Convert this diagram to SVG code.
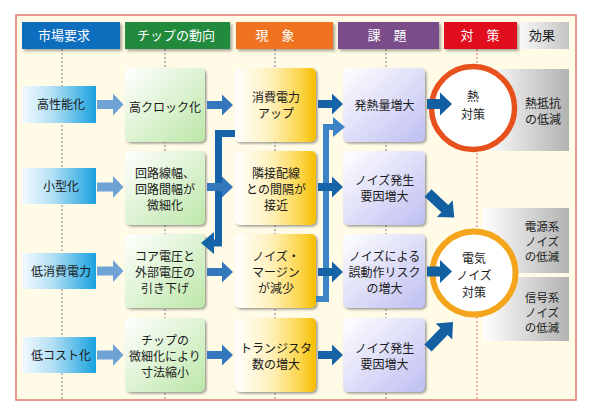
<svg xmlns="http://www.w3.org/2000/svg" width="590" height="417" viewBox="0 0 590 417">
<defs>
<linearGradient id="gBlue" x1="0" y1="0" x2="1" y2="0"><stop offset="0" stop-color="#F2FAFE"/><stop offset="0.4" stop-color="#B5E0F5"/><stop offset="1" stop-color="#1AA2DF"/></linearGradient>
<linearGradient id="gGreen" x1="0" y1="0" x2="1" y2="1"><stop offset="0" stop-color="#FFFFFF"/><stop offset="1" stop-color="#BCE7A8"/></linearGradient>
<linearGradient id="gYellow" x1="0" y1="0" x2="1" y2="0"><stop offset="0" stop-color="#FFFFFF"/><stop offset="0.45" stop-color="#FFF0BA"/><stop offset="0.8" stop-color="#FDD64C"/><stop offset="1" stop-color="#F5BE00"/></linearGradient>
<linearGradient id="gLav" x1="0" y1="0" x2="1" y2="1"><stop offset="0" stop-color="#FFFFFF"/><stop offset="1" stop-color="#BEBEF2"/></linearGradient>
<linearGradient id="gGray" x1="0" y1="0" x2="1" y2="0"><stop offset="0" stop-color="#FFFFFF"/><stop offset="1" stop-color="#B2B2B2"/></linearGradient>
<linearGradient id="gHdrGray" x1="0" y1="0" x2="1" y2="0"><stop offset="0" stop-color="#F8F8F8"/><stop offset="1" stop-color="#C4C4C4"/></linearGradient>
<filter id="sh" x="-10%" y="-10%" width="130%" height="130%"><feDropShadow dx="1.5" dy="1.5" stdDeviation="0.9" flood-color="#555" flood-opacity="0.6"/></filter>
<filter id="hsh" x="-10%" y="-20%" width="130%" height="160%"><feDropShadow dx="2" dy="2" stdDeviation="1.5" flood-color="#000" flood-opacity="0.35"/></filter>
<style>
text{font-family:"Noto Sans CJK JP","Noto Sans",sans-serif;font-size:12px;fill:#1a1a1a;text-anchor:middle}
.ht{font-size:13px;fill:#fff}
.et{font-size:11.5px}
.guide{stroke:#A8A8A8;stroke-width:1.5;stroke-dasharray:2 2;fill:none}
.guide5{stroke:#E49A96;stroke-width:1.5;stroke-dasharray:2 2;fill:none}
.b1{fill:url(#gBlue)}
.b2{fill:url(#gGreen);filter:url(#sh)}
.b3{fill:url(#gYellow);filter:url(#sh)}
.b4{fill:url(#gLav);filter:url(#sh)}
.b6{fill:url(#gGray)}
.a1{fill:#6FA3D6}
.a2{fill:#3577BC}
.a3{fill:#1763A8}
.a4{fill:#125FA2}
</style>
</defs>

<rect x="16" y="15" width="560" height="385" fill="#FFFBE6" stroke="#E07A6C" stroke-width="1.5"/>

<g id="guides">
<line class="guide" x1="62" y1="49" x2="62" y2="399"/>
<line class="guide" x1="165" y1="49" x2="165" y2="399"/>
<line class="guide" x1="275" y1="49" x2="275" y2="399"/>
<line class="guide" x1="386" y1="49" x2="386" y2="399"/>
<line class="guide5" x1="477" y1="49" x2="477" y2="399"/>
</g>

<g id="headers">
<g id="h-market"><rect x="22" y="22" width="98" height="27" fill="#0B6EBE" filter="url(#hsh)"/><text class="ht" x="64" y="40">市場要求</text></g>
<g id="h-chip"><rect x="125" y="22" width="105" height="27" fill="#228A3C" filter="url(#hsh)"/><text class="ht" x="176" y="40">チップの動向</text></g>
<g id="h-phen"><rect x="236" y="22" width="97" height="27" fill="#F07320" filter="url(#hsh)"/><text class="ht" x="275" y="40">現　象</text></g>
<g id="h-issue"><rect x="338" y="22" width="101" height="27" fill="#7A4E8A" filter="url(#hsh)"/><text class="ht" x="387" y="40">課　題</text></g>
<g id="h-measure"><rect x="444" y="22" width="73" height="27" fill="#E0101E" filter="url(#hsh)"/><text class="ht" x="480" y="40">対　策</text></g>
<g id="h-effect"><rect x="520" y="22" width="49" height="27" fill="url(#gHdrGray)"/><text x="542" y="40" style="font-size:13px">効果</text></g>
</g>

<g id="effects">
<g id="e-heat"><rect class="b6" x="483" y="69" width="86" height="82"/><text x="543" y="108">熱抵抗</text><text x="543" y="124">の低減</text></g>
<g id="e-power"><rect class="b6" x="483" y="208" width="86" height="65"/><text class="et" x="542" y="231">電源系</text><text class="et" x="542" y="246">ノイズ</text><text class="et" x="542" y="261">の低減</text></g>
<g id="e-signal"><rect class="b6" x="483" y="277" width="86" height="64"/><text class="et" x="542" y="302">信号系</text><text class="et" x="542" y="317">ノイズ</text><text class="et" x="542" y="332">の低減</text></g>
</g>

<g id="c-heat"><circle cx="473" cy="108" r="41.5" fill="#FFFFFF" stroke="#E8501C" stroke-width="5.5"/><text x="473" y="101">熱</text><text x="473" y="119">対策</text></g>
<g id="c-noise"><circle cx="474" cy="273" r="41.5" fill="#FFFFFF" stroke="#F5A51C" stroke-width="6"/><text x="474" y="263">電気</text><text x="474" y="280">ノイズ</text><text x="474" y="297">対策</text></g>

<g id="m-perf"><rect class="b1" x="22" y="86" width="74" height="37"/><text x="61" y="109">高性能化</text></g>
<g id="m-small"><rect class="b1" x="22" y="168" width="74" height="36"/><text x="61" y="191">小型化</text></g>
<g id="m-lowpower"><rect class="b1" x="22" y="253" width="74" height="36"/><text x="61" y="276">低消費電力</text></g>
<g id="m-lowcost"><rect class="b1" x="22" y="337" width="74" height="36"/><text x="61" y="360">低コスト化</text></g>

<g id="t-clock"><rect class="b2" x="125" y="68" width="80" height="74" rx="5"/><text x="165" y="112">高クロック化</text></g>
<g id="t-fine"><rect class="b2" x="125" y="151" width="80" height="74" rx="5"/><text x="165" y="178">回路線幅、</text><text x="165" y="194">回路間幅が</text><text x="165" y="210">微細化</text></g>
<g id="t-voltage"><rect class="b2" x="125" y="234" width="80" height="74" rx="5"/><text x="165" y="261">コア電圧と</text><text x="165" y="277">外部電圧の</text><text x="165" y="293">引き下げ</text></g>
<g id="t-shrink"><rect class="b2" x="125" y="318" width="80" height="74" rx="5"/><text x="165" y="345">チップの</text><text x="165" y="361">微細化により</text><text x="165" y="377">寸法縮小</text></g>

<g id="p-power"><rect class="b3" x="235" y="68" width="81" height="74" rx="5"/><text x="276" y="102">消費電力</text><text x="276" y="118">アップ</text></g>
<g id="p-spacing"><rect class="b3" x="235" y="151" width="81" height="74" rx="5"/><text x="276" y="178">隣接配線</text><text x="276" y="194">との間隔が</text><text x="276" y="210">接近</text></g>
<g id="p-margin"><rect class="b3" x="235" y="234" width="81" height="74" rx="5"/><text x="276" y="261">ノイズ・</text><text x="276" y="277">マージン</text><text x="276" y="293">が減少</text></g>
<g id="p-trans"><rect class="b3" x="235" y="318" width="81" height="74" rx="5"/><text x="276" y="353">トランジスタ</text><text x="276" y="369">数の増大</text></g>

<g id="i-heat"><rect class="b4" x="343" y="68" width="82" height="74" rx="5"/><text x="384.5" y="110">発熱量増大</text></g>
<g id="i-noise1"><rect class="b4" x="343" y="151" width="82" height="74" rx="5"/><text x="384.5" y="185">ノイズ発生</text><text x="384.5" y="201">要因増大</text></g>
<g id="i-malfunc"><rect class="b4" x="343" y="234" width="82" height="74" rx="5"/><text x="384.5" y="261">ノイズによる</text><text x="384.5" y="277">誤動作リスク</text><text x="384.5" y="293">の増大</text></g>
<g id="i-noise2"><rect class="b4" x="343" y="318" width="82" height="74" rx="5"/><text x="384.5" y="353">ノイズ発生</text><text x="384.5" y="369">要因増大</text></g>

<g id="connectors">
<path d="M316 299 H326 V127 H335" fill="none" stroke="#3D84C6" stroke-width="6" stroke-linejoin="miter"/>
<polygon points="333,117 345,127 333,137" fill="#3D84C6"/>
<path d="M235 133.5 H218.5 V243 H212" fill="none" stroke="#1563A8" stroke-width="7" stroke-linejoin="miter"/>
<polygon points="201,243 214,232 214,254" fill="#1563A8"/>

<path class="a1" d="M97 100 H113 V93.5 L123.5 104.5 L113 115.5 V109 H97 Z"/>
<path class="a1" d="M97 182.5 H113 V176 L123.5 187 L113 198 V191.5 H97 Z"/>
<path class="a1" d="M97 266.5 H113 V260 L123.5 271 L113 282 V275.5 H97 Z"/>
<path class="a1" d="M97 350.5 H113 V344 L123.5 355 L113 366 V359.5 H97 Z"/>

<path class="a2" d="M207 101 H222 V94.5 L233 105 L222 115.5 V109 H207 Z"/>
<path class="a2" d="M207 183 H222 V176.5 L233 187 L222 197.5 V191 H207 Z"/>
<path class="a2" d="M207 268 H222 V261.5 L233 272 L222 282.5 V276 H207 Z"/>
<path class="a2" d="M207 351 H222 V344.5 L233 355 L222 365.5 V359 H207 Z"/>

<path class="a3" d="M318 100 H332 V93.5 L343 104 L332 114.5 V108 H318 Z"/>
<path class="a3" d="M318 183 H332 V176.5 L343 187 L332 197.5 V191 H318 Z"/>
<path class="a3" d="M318 268 H332 V261.5 L343 272 L332 282.5 V276 H318 Z"/>
<path class="a3" d="M318 351 H332 V344.5 L343 355 L332 365.5 V359 H318 Z"/>

<path class="a4" d="M427 99 H440 V92.5 L452 104 L440 115.5 V109 H427 Z"/>
<path class="a4" d="M427 266.5 H440 V260 L452 271.5 L440 283 V276.5 H427 Z"/>
<path class="a4" transform="translate(428 193) rotate(43)" d="M0 -5 H23 V-11.5 L36 0 L23 11.5 V5 H0 Z"/>
<path class="a4" transform="translate(428 348) rotate(-46)" d="M0 -5 H23 V-11.5 L36 0 L23 11.5 V5 H0 Z"/>
</g>
</svg>
